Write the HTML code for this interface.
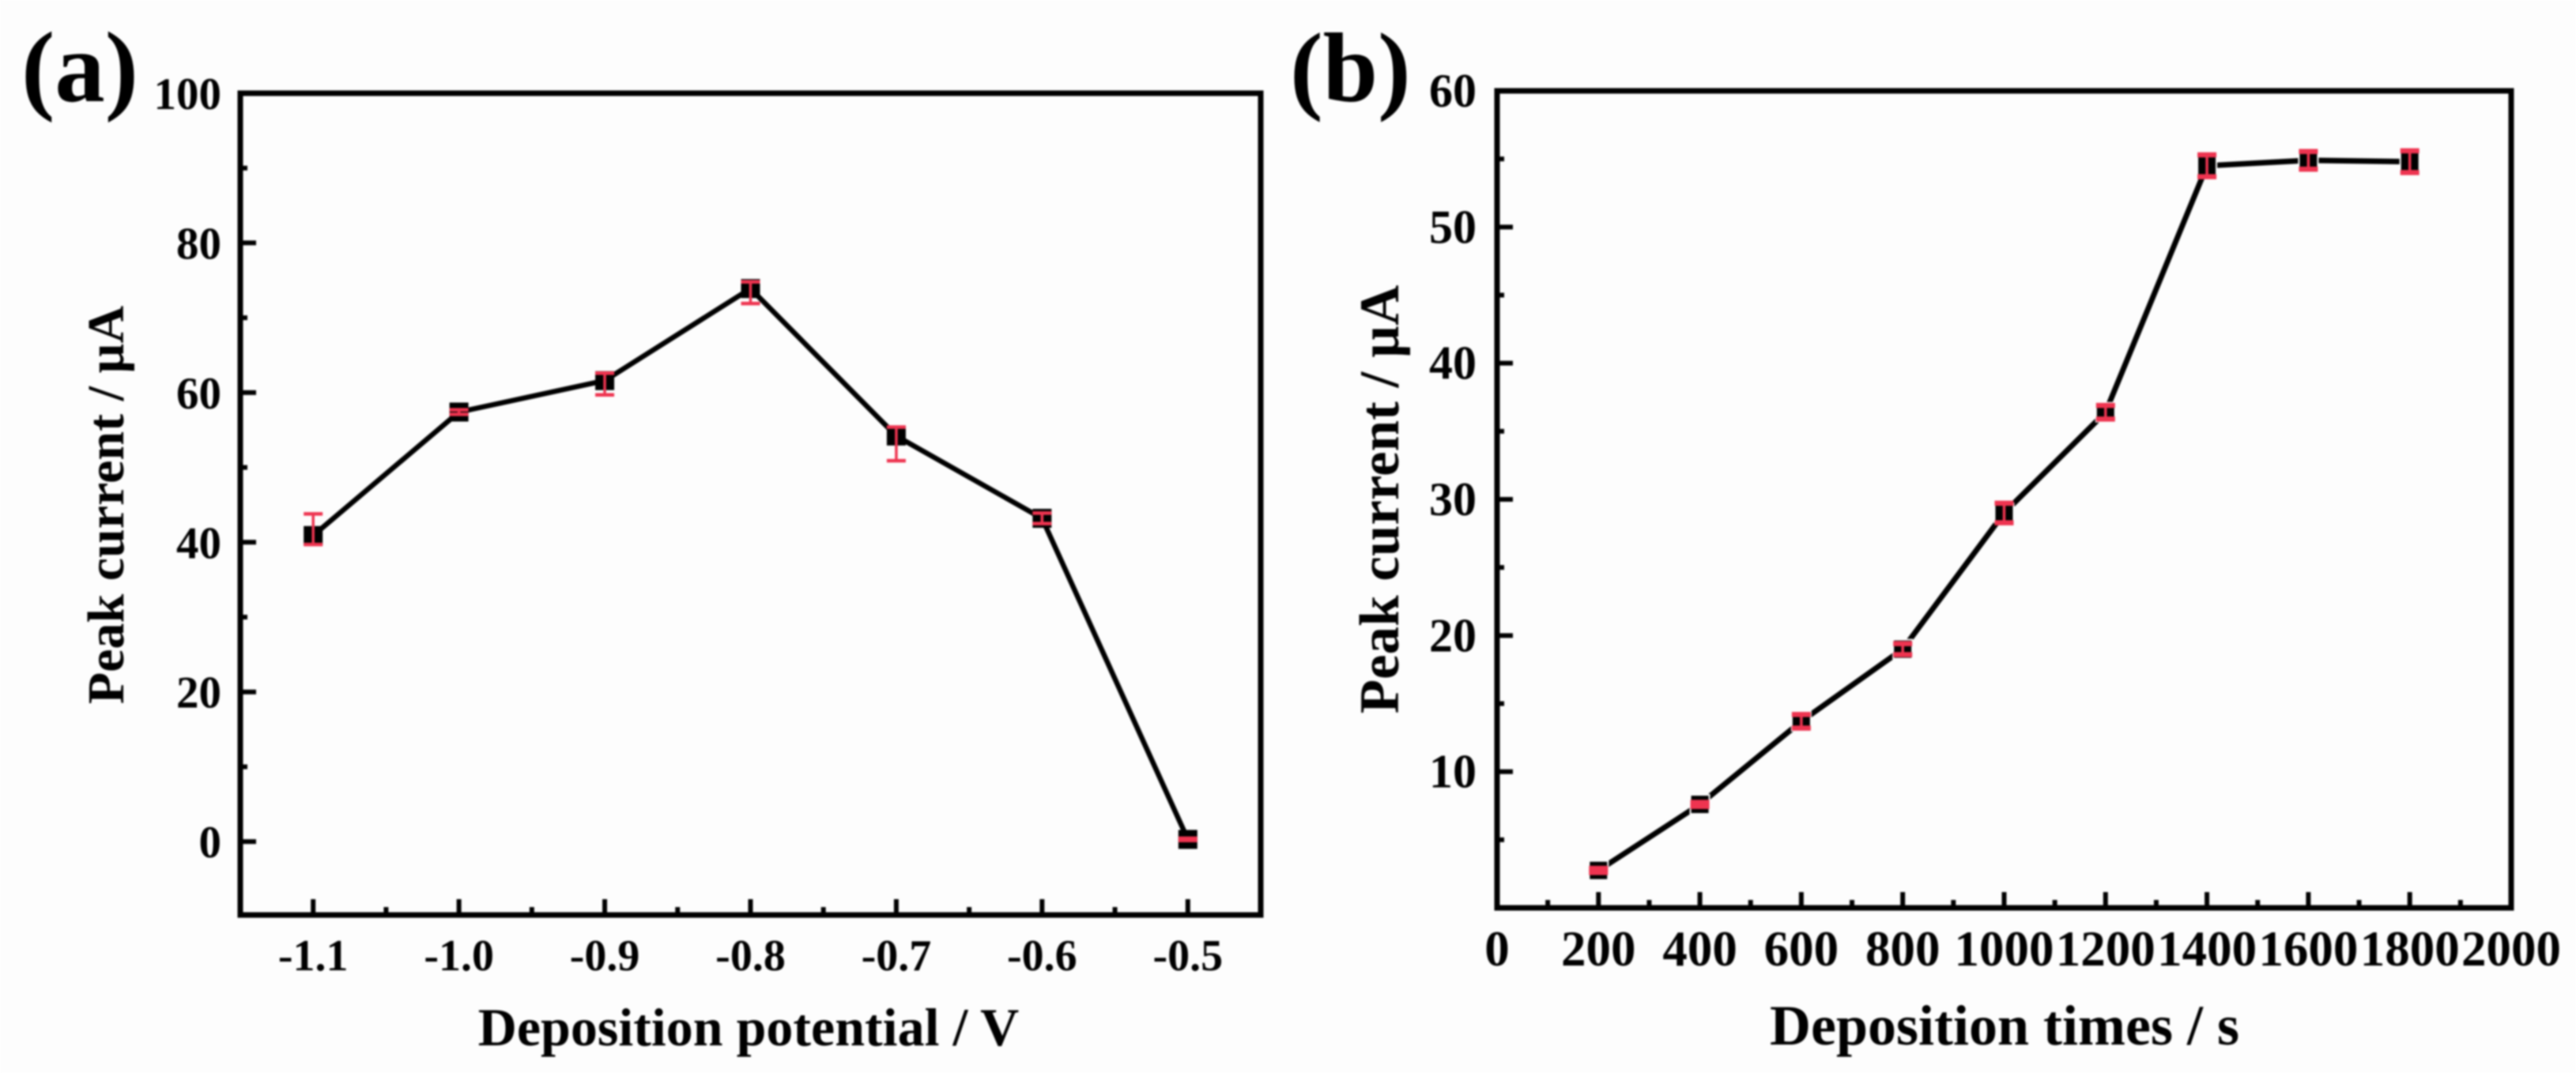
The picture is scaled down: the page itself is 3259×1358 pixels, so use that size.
<!DOCTYPE html>
<html lang="en">
<head>
<meta charset="utf-8">
<title>Peak current vs deposition potential and time</title>
<style>
html,body{margin:0;padding:0;background:#fdfdfd;width:3259px;height:1358px;overflow:hidden}
svg{display:block;filter:blur(1px)}
text{font-family:"Liberation Serif","DejaVu Serif",serif;font-weight:bold;fill:#000}
</style>
</head>
<body>
<svg id="figure" xmlns="http://www.w3.org/2000/svg" width="3259" height="1358" viewBox="0 0 3259 1358">
  <rect width="3259" height="1358" fill="#fdfdfd"/>
  <text x="27" y="128" font-size="127">(a)</text>
  <text x="1632" y="128" font-size="125">(b)</text>
  <text x="947" y="1323" font-size="68" text-anchor="middle">Deposition potential / V</text>
  <text transform="translate(156 639) rotate(-90)" font-size="66" text-anchor="middle">Peak current / µA</text>
  <text x="2536" y="1322" font-size="72" text-anchor="middle">Deposition times / s</text>
  <text transform="translate(1769 632) rotate(-90)" font-size="71" text-anchor="middle">Peak current / µA</text>
  <g id="panel-a"></g>
  <g id="panel-b"></g>
</svg>
<script>
// Panel (a) data
const potentialValues = [-1.1, -1.0, -0.9, -0.8, -0.7, -0.6, -0.5];
const potentialCurrent = [40.9, 57.4, 61.6, 73.9, 54.2, 43.2, 0.3];
const potentialErrUp = [2.9, 0.3, 1.0, 0.9, 1.2, 0.7, 0.15];
const potentialErrDown = [1.2, 0.3, 1.9, 2.0, 3.3, 0.7, 0.15];
const potentialXTicks = [-1.1, -1.0, -0.9, -0.8, -0.7, -0.6, -0.5];
const potentialXLabels = ["-1.1", "-1.0", "-0.9", "-0.8", "-0.7", "-0.6", "-0.5"];
const potentialXMinor = [-1.05, -0.95, -0.85, -0.75, -0.65, -0.55];
const potentialYTicks = [0, 20, 40, 60, 80, 100];
const potentialYLabels = ["0", "20", "40", "60", "80", "100"];
const potentialYMinor = [10, 30, 50, 70, 90];

// Panel (b) data
const timeValues = [200, 400, 600, 800, 1000, 1200, 1400, 1600, 1800];
const timeCurrent = [2.75, 7.6, 13.7, 19.0, 29.0, 36.4, 54.5, 54.9, 54.8];
const timeErrUp = [0.15, 0.15, 0.5, 0.4, 0.72, 0.5, 0.8, 0.65, 0.8];
const timeErrDown = [0.15, 0.15, 0.5, 0.4, 0.72, 0.5, 0.8, 0.65, 0.8];
const timeXTicks = [0, 200, 400, 600, 800, 1000, 1200, 1400, 1600, 1800, 2000];
const timeXLabels = ["0", "200", "400", "600", "800", "1000", "1200", "1400", "1600", "1800", "2000"];
const timeXMinor = [100, 300, 500, 700, 900, 1100, 1300, 1500, 1700, 1900];
const timeYTicks = [10, 20, 30, 40, 50, 60];
const timeYLabels = ["10", "20", "30", "40", "50", "60"];
const timeYMinor = [5, 15, 25, 35, 45, 55];

const SVG_NS = "http://www.w3.org/2000/svg";
const RED = "#ee3450";

function make(parent, tag, props, text) {
  const el = document.createElementNS(SVG_NS, tag);
  for (const key in props) el.setAttribute(key, props[key]);
  if (text !== undefined) el.textContent = text;
  parent.appendChild(el);
  return el;
}

function drawPanel(cfg) {
  const root = document.getElementById(cfg.id);
  const xScale = v => cfg.left + (v - cfg.xMin) / (cfg.xMax - cfg.xMin) * (cfg.right - cfg.left);
  const yScale = v => cfg.bottom - (v - cfg.yMin) / (cfg.yMax - cfg.yMin) * (cfg.bottom - cfg.top);

  cfg.xTicks.forEach((v, i) => {
    const x = xScale(v);
    const inside = v > cfg.xMin && v < cfg.xMax;
    if (inside) {
      const t = make(root, "line", {x1: x, x2: x, y1: cfg.bottom, y2: cfg.bottom - 20, stroke: "#000", "stroke-width": 6});
      
      
    }
    const label = make(root, "text", {x: x, y: cfg.xLabelY, "font-size": cfg.xFont, "text-anchor": "middle"}, cfg.xLabels[i]);
    
    
  });
  cfg.xMinor.forEach(v => {
    const x = xScale(v);
    const t = make(root, "line", {x1: x, x2: x, y1: cfg.bottom, y2: cfg.bottom - 10, stroke: "#000", "stroke-width": 6});
    
    
  });
  cfg.yTicks.forEach((v, i) => {
    const y = yScale(v);
    if (v < cfg.yMax) {
      const t = make(root, "line", {x1: cfg.left, x2: cfg.left + 20, y1: y, y2: y, stroke: "#000", "stroke-width": 6});
      
      
    }
    const label = make(root, "text", {x: cfg.yLabelX, y: y + 20, "font-size": cfg.yFont, "text-anchor": "end"}, cfg.yLabels[i]);
    
    
  });
  cfg.yMinor.forEach(v => {
    const y = yScale(v);
    const t = make(root, "line", {x1: cfg.left, x2: cfg.left + 9, y1: y, y2: y, stroke: "#000", "stroke-width": 6});
    
    
  });

  const frame = make(root, "rect", {x: cfg.left, y: cfg.top, width: cfg.right - cfg.left, height: cfg.bottom - cfg.top, fill: "none", stroke: "#000", "stroke-width": 7});
  
  

  const points = cfg.xs.map((v, i) => xScale(v) + "," + yScale(cfg.ys[i])).join(" ");
  const line = make(root, "polyline", {points: points, fill: "none", stroke: "#000", "stroke-width": cfg.lineWidth, "stroke-linejoin": "miter"});
  
  

  cfg.xs.forEach((v, i) => {
    const cx = xScale(v);
    const cy = yScale(cfg.ys[i]);
    const marker = make(root, "rect", {x: cx - 12, y: cy - 12, width: 24, height: 24, fill: "#000", stroke: cfg.halo, "stroke-width": cfg.haloWidth});
    
    
    const hi = yScale(cfg.ys[i] + cfg.errUp[i]);
    const lo = yScale(cfg.ys[i] - cfg.errDown[i]);
    const bar = make(root, "line", {x1: cx, x2: cx, y1: hi, y2: lo, stroke: RED, "stroke-width": 3.5});
    
    
    [hi, lo].forEach(capY => {
      const cap = make(root, "line", {x1: cx - 12, x2: cx + 12, y1: capY, y2: capY, stroke: RED, "stroke-width": cfg.capWidth});
      
      
    });
  });
}

drawPanel({
  id: "panel-a", left: 304, right: 1595, top: 118, bottom: 1158,
  xMin: -1.15, xMax: -0.45, yMin: -9.8, yMax: 100,
  xs: potentialValues, ys: potentialCurrent, errUp: potentialErrUp, errDown: potentialErrDown,
  xTicks: potentialXTicks, xLabels: potentialXLabels, xMinor: potentialXMinor,
  yTicks: potentialYTicks, yLabels: potentialYLabels, yMinor: potentialYMinor,
  xLabelY: 1228, yLabelX: 280, xFont: 56, yFont: 57, halo: "none", haloWidth: 0, lineWidth: 6.5, capWidth: 4.5
});
drawPanel({
  id: "panel-b", left: 1894, right: 3177, top: 115, bottom: 1149,
  xMin: 0, xMax: 2000, yMin: 0, yMax: 60,
  xs: timeValues, ys: timeCurrent, errUp: timeErrUp, errDown: timeErrDown,
  xTicks: timeXTicks, xLabels: timeXLabels, xMinor: timeXMinor,
  yTicks: timeYTicks, yLabels: timeYLabels, yMinor: timeYMinor,
  xLabelY: 1222, yLabelX: 1868, xFont: 63, yFont: 60, halo: "#fdfdfd", haloWidth: 2, lineWidth: 7, capWidth: 6.5
});
</script>
</body>
</html>
